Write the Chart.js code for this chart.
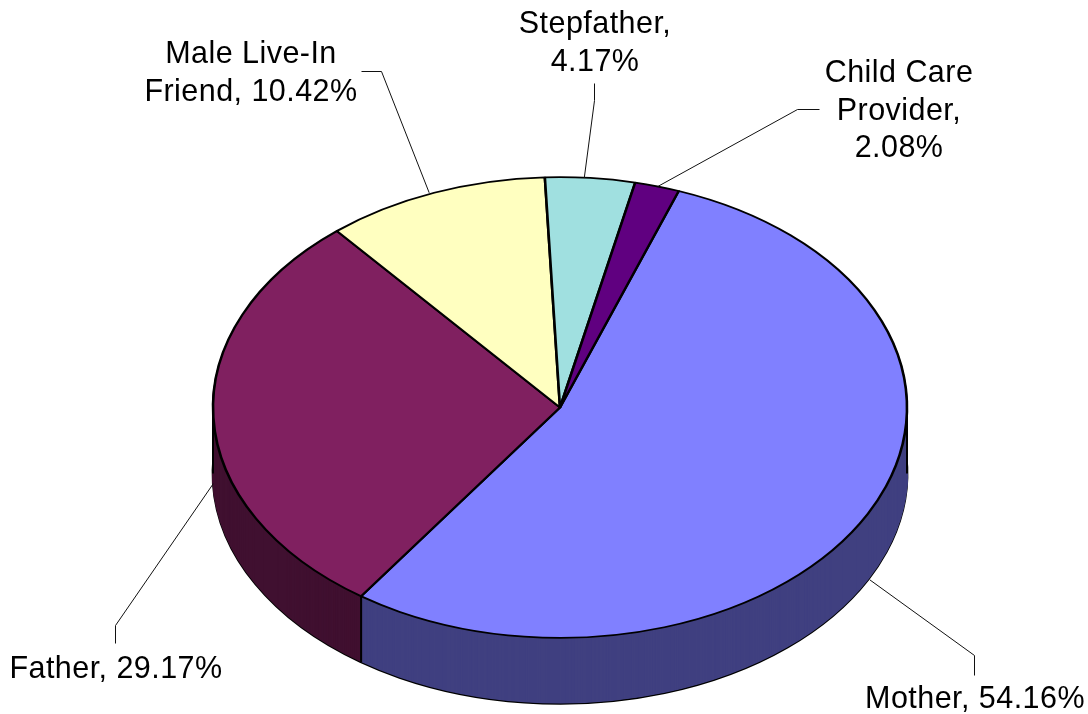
<!DOCTYPE html>
<html>
<head>
<meta charset="utf-8">
<style>html,body{margin:0;padding:0;background:#fff}canvas{display:block}</style>
<script src="https://cdn.jsdelivr.net/npm/chart.js@4/dist/chart.umd.js"></script>
</head>
<body>
<canvas id="c" width="1088" height="714"></canvas>
<script>
const categories = ["Mother", "Father", "Male Live-In Friend", "Stepfather", "Child Care Provider"];
const values = [54.16, 29.17, 10.42, 4.17, 2.08];
const faceColors = ["#8080FF", "#802060", "#FFFFC0", "#A0E0E0", "#600080"];
const wallColors = ["#404080", "#401030", "#808060", "#507070", "#300040"];
const labelLines = [["Mother, "], ["Father, "], ["Male Live-In", "Friend, "], ["Stepfather,", ""], ["Child Care", "Provider,", ""]];

const tilt = 0.664, depth = 66, pieRadius = 347, startRotation = 20;
const fontPx = 30.5, lineGap = 37.6;
// text placement: centre x, first baseline y
const labelPos = [[975, 708], [116, 678], [251, 63], [595, 33], [899, 82]];
// leader lines: x nudge on the rim, elbow, end
const leaders = [
  {nudge: 2, pts: [[974, 655], [974, 675]]},
  {nudge: 0, pts: [[115, 625], [115, 643]]},
  {nudge: -5, pts: [[381, 71], [361, 71]]},
  {nudge: -6, pts: [[594, 100], [594, 83]]},
  {nudge: 1, pts: [[797, 109], [819, 109]]}
];

const pie3d = {
  id: 'pie3d',
  beforeDatasetsDraw(chart) {
    const ctx = chart.ctx, arcs = chart.getDatasetMeta(0).data;
    const cx = arcs[0].x, cy = arcs[0].y, r = arcs[0].outerRadius;
    const layer = (dy, stroke, w) => {
      ctx.save();
      ctx.translate(cx, cy + dy); ctx.scale(1, tilt); ctx.translate(-cx, -cy);
      arcs.forEach((a, i) => {
        const saved = a.options;
        a.options = Object.assign({}, saved, {backgroundColor: wallColors[i], borderColor: stroke || wallColors[i], borderWidth: w});
        a.draw(ctx);
        a.options = saved;
      });
      ctx.restore();
    };
    layer(depth, '#000', 2.8);
    for (let dy = depth - 1; dy > 0; dy--) layer(dy, null, 2);
    // vertical edges of the wall
    ctx.save();
    ctx.strokeStyle = '#000'; ctx.lineWidth = 2;
    ctx.beginPath();
    ctx.moveTo(cx - r, cy); ctx.lineTo(cx - r, cy + depth);
    ctx.moveTo(cx + r, cy); ctx.lineTo(cx + r, cy + depth);
    arcs.forEach(a => {
      const s = Math.sin(a.startAngle);
      if (s > 0) {
        const x = cx + r * Math.cos(a.startAngle), y = cy + r * tilt * s;
        ctx.moveTo(x, y); ctx.lineTo(x, y + depth);
      }
    });
    ctx.stroke();
    ctx.restore();
    // top face drawn by the library under the same squash
    ctx.save();
    ctx.translate(cx, cy); ctx.scale(1, tilt); ctx.translate(-cx, -cy);
  },
  afterDatasetsDraw(chart) {
    const ctx = chart.ctx, arcs = chart.getDatasetMeta(0).data;
    ctx.restore();
    const cx = arcs[0].x, cy = arcs[0].y, r = arcs[0].outerRadius;
    ctx.save();
    ctx.strokeStyle = '#111'; ctx.lineWidth = 1;
    arcs.forEach((a, i) => {
      const mid = (a.startAngle + a.endAngle) / 2, s = Math.sin(mid);
      const x = cx + r * Math.cos(mid) + leaders[i].nudge;
      const y = cy + r * tilt * s + (s > 0 ? depth : 0);
      ctx.beginPath();
      ctx.moveTo(x, y);
      leaders[i].pts.forEach(p => ctx.lineTo(p[0] + .5, p[1] + .5));
      ctx.stroke();
    });
    ctx.fillStyle = '#000';
    ctx.font = fontPx + 'px "Liberation Sans", Arial, sans-serif';
    ctx.letterSpacing = '0.45px';
    ctx.textAlign = 'center'; ctx.textBaseline = 'alphabetic';
    labelLines.forEach((lines, i) => {
      lines.forEach((t, j) => {
        const txt = j === lines.length - 1 ? t + values[i].toFixed(2) + '%' : t;
        ctx.fillText(txt, labelPos[i][0], labelPos[i][1] + j * lineGap);
      });
    });
    ctx.restore();
  }
};

new Chart(document.getElementById('c'), {
  type: 'pie',
  data: {
    labels: categories,
    datasets: [{
      data: values,
      backgroundColor: faceColors,
      borderColor: '#000',
      borderWidth: 2.6,
      radius: pieRadius,
      clip: false
    }]
  },
  options: {
    responsive: false,
    animation: false,
    rotation: startRotation,
    layout: {padding: {left: 32, top: 101, right: 0, bottom: 0}},
    plugins: {legend: {display: false}, tooltip: {enabled: false}}
  },
  plugins: [pie3d]
});
</script>
</body>
</html>
